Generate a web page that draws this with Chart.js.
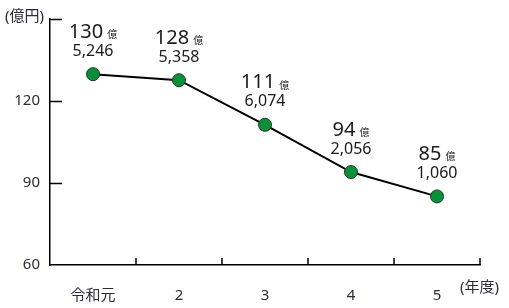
<!DOCTYPE html>
<html>
<head>
<meta charset="utf-8">
<script src="https://cdn.jsdelivr.net/npm/chart.js@4.4.0/dist/chart.umd.min.js"></script>
<style>
  html, body { margin: 0; padding: 0; background: #fff; }
  #wrap { width: 509px; height: 308px; }
</style>
</head>
<body>
<div id="wrap"><canvas id="chart"></canvas></div>
<script>
const years = ['令和元', '2', '3', '4', '5'];
const values = [129.8, 127.6, 111.3, 94.0, 85.1];   // 億円 (plotted)
const labelOku = ['130', '128', '111', '94', '85'];
const labelMan = ['5,246', '5,358', '6,074', '2,056', '1,060'];
const yTicks = [60, 90, 120, 150];

const FONT = "'Noto Sans', 'Noto Sans CJK JP', sans-serif";
const TEXT = '#2b2b3a';

// inward tick marks, value labels and unit captions
const decorations = {
  id: 'decorations',
  afterDraw(chart) {
    const ctx = chart.ctx;
    const area = chart.chartArea;
    const xs = chart.scales.x;
    const ys = chart.scales.y;
    ctx.save();
    ctx.strokeStyle = '#000';
    ctx.lineWidth = 1.5;
    ctx.beginPath();
    yTicks.forEach(v => {
      if (v === ys.min) return;
      const y = Math.round(ys.getPixelForValue(v)) + 0.5;
      ctx.moveTo(area.left, y);
      ctx.lineTo(area.left + 12, y);
    });
    const half = (xs.getPixelForValue(1) - xs.getPixelForValue(0)) / 2;
    years.forEach((_, i) => {
      const x = Math.round(xs.getPixelForValue(i) + half);
      ctx.moveTo(x, area.bottom);
      ctx.lineTo(x, area.bottom - 7);
    });
    ctx.stroke();

    // value labels
    const meta = chart.getDatasetMeta(0);
    ctx.fillStyle = '#1a1a1a';
    ctx.textBaseline = 'middle';
    meta.data.forEach((pt, i) => {
      ctx.font = '20px ' + FONT;
      const w1 = ctx.measureText(labelOku[i]).width;
      ctx.font = '10px ' + FONT;
      const w2 = ctx.measureText('億').width;
      const total = w1 + 4 + w2;
      let x0 = pt.x - total / 2;
      ctx.textAlign = 'left';
      ctx.font = '20px ' + FONT;
      ctx.fillText(labelOku[i], x0, pt.y - 42);
      ctx.font = '10px ' + FONT;
      ctx.fillText('億', x0 + w1 + 4, pt.y - 39);
      ctx.textAlign = 'center';
      ctx.font = '16px ' + FONT;
      ctx.fillText(labelMan[i], pt.x, pt.y - 23);
    });

    // unit captions
    ctx.fillStyle = TEXT;
    ctx.font = '15px ' + FONT;
    ctx.textAlign = 'left';
    ctx.fillText('(億円)', 5, 17);
    ctx.fillText('(年度)', 460, 288);
    ctx.restore();
  }
};

new Chart(document.getElementById('chart'), {
  type: 'line',
  data: {
    labels: years,
    datasets: [{
      data: values,
      borderColor: '#000',
      borderWidth: 2,
      tension: 0,
      pointRadius: 6.5,
      pointBackgroundColor: '#0b8f3a',
      pointBorderColor: '#1d3b22',
      pointBorderWidth: 1
    }]
  },
  options: {
    responsive: true,
    maintainAspectRatio: false,
    animation: false,
    layout: { padding: { top: 17, right: 29, left: 0, bottom: 0 } },
    plugins: { legend: { display: false }, tooltip: { enabled: false } },
    scales: {
      x: {
        offset: true,
        grid: { display: false, drawTicks: false },
        border: { display: true, color: '#000', width: 1.5 },
        ticks: { color: TEXT, padding: 22, font: { size: 15, family: FONT } },
        afterFit(scale) { scale.height = 43; }
      },
      y: {
        min: 60,
        max: 150,
        afterBuildTicks(scale) { scale.ticks = yTicks.map(v => ({ value: v })); },
        grid: { display: false, drawTicks: false },
        border: { display: true, color: '#000', width: 1.5 },
        ticks: {
          color: TEXT,
          padding: 10,
          font: { size: 15, family: FONT },
          callback: v => (v === 150 ? '' : v)
        },
        afterFit(scale) { scale.width = 50; }
      }
    }
  },
  plugins: [decorations]
});
</script>
</body>
</html>
